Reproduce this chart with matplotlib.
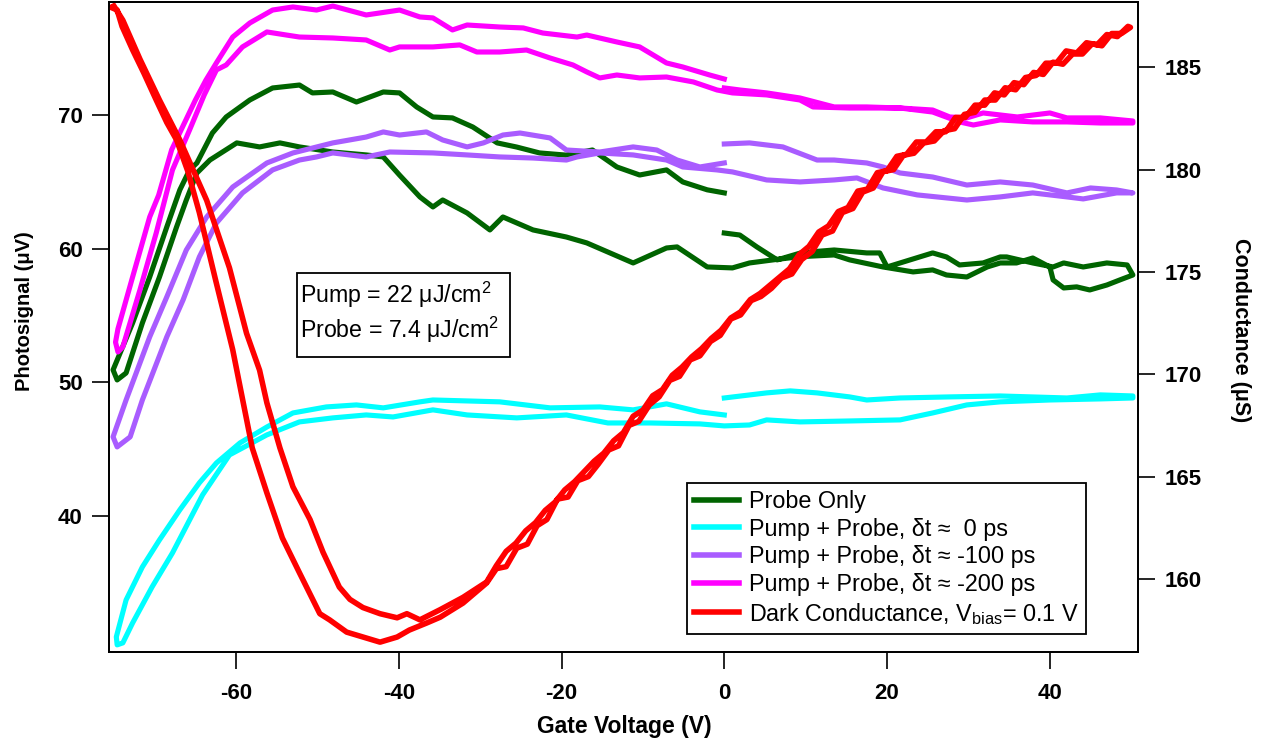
import matplotlib
matplotlib.use("Agg")
import matplotlib.pyplot as plt
import matplotlib.patches as patches
from matplotlib.lines import Line2D

plt.rcParams['font.family'] = ['Liberation Sans', 'DejaVu Sans']
plt.rcParams['mathtext.fontset'] = 'custom'
plt.rcParams['mathtext.rm'] = 'Liberation Sans'
plt.rcParams['mathtext.it'] = 'Liberation Sans:italic'
plt.rcParams['mathtext.bf'] = 'Liberation Sans:bold'
plt.rcParams['axes.unicode_minus'] = False

# Probe only: sweep 0 -> -75 -> +50 -> 0 (photosignal, uV)
probe_gate = [0.0, -2.1, -5.1, -7.1, -10.4, -13.2, -16.2, -19.5, -22.7, -25.5, -27.9, -30.9,
              -33.4, -35.8, -37.8, -39.9, -41.9, -45.2, -48.1, -50.6, -52.2, -55.5, -58.3,
              -61.2, -62.9, -64.8, -65.7, -66.9, -68.5, -70.6, -72.7, -75.1, -74.6,
              -73.5, -71.5, -69.4, -67.3, -66.1, -64.8, -63.2, -59.9, -57.1, -54.6, -52.2,
              -48.1, -44.0, -41.9, -39.9, -37.4, -35.8, -34.6, -31.6, -28.8, -27.2, -23.5,
              -19.4, -16.9, -11.2, -7.1, -5.8, -2.1, 1.0, 3.1, 6.5, 9.3, 13.5, 15.4, 19.5,
              23.2, 25.6, 27.3, 29.8, 32.3, 33.9, 35.9, 37.9, 40.0, 40.4, 41.7, 43.3, 44.9,
              47.0, 48.6, 50.2, 49.5, 47.0, 44.1, 41.7, 40.4, 37.9, 34.7, 33.9, 31.8, 28.9,
              27.3, 25.6, 21.6, 20.0, 19.1, 17.5, 13.5, 9.5, 6.5, 4.0, 1.9, 0.0]
probe_sig = [64.17, 64.40, 64.99, 65.89, 65.51, 66.11, 67.38, 67.00, 67.16, 67.60, 67.91, 69.10,
             69.78, 69.85, 70.60, 71.65, 71.72, 70.97, 71.72, 71.65, 72.24, 72.02, 71.12,
             69.85, 68.65, 66.41, 65.89, 64.39, 61.62, 57.88, 54.44, 50.93, 50.18,
             50.70, 54.44, 57.88, 61.62, 63.64, 65.66, 66.63, 67.91, 67.61, 67.91, 67.61,
             67.23, 67.01, 66.86, 65.50, 63.87, 63.12, 63.64, 62.67, 61.40, 62.37, 61.40,
             60.87, 60.43, 58.93, 60.05, 60.13, 58.63, 58.56, 58.93, 59.20, 59.40, 59.53,
             59.16, 58.63, 58.26, 58.41, 58.03, 57.88, 58.63, 58.93, 58.93, 59.30, 58.63,
             57.66, 57.06, 57.14, 56.91, 57.28, 57.66, 58.03, 58.78, 58.93, 58.63, 58.93,
             58.63, 58.93, 59.38, 59.38, 58.93, 58.78, 59.38, 59.68, 58.93, 58.63, 59.68,
             59.68, 59.90, 59.70, 59.16, 60.13, 61.02, 61.17]

# Pump + probe, delay ~ 0 ps
zero_gate = [0.0, -3.0, -7.1, -11.2, -15.3, -21.4, -27.6, -35.8, -37.4, -41.9, -45.2, -48.9,
             -53.0, -56.2, -59.5, -62.4, -64.5, -66.9, -69.4, -71.5, -73.5, -74.7, -74.6,
             -73.9, -72.7, -70.3, -67.8, -64.1, -60.8, -56.2, -52.2, -48.1, -44.0, -40.7,
             -35.8, -31.6, -25.5, -19.4, -14.3, -9.1, -3.0, 0.0, 3.1, 5.2, 9.3, 15.4, 21.6,
             25.6, 29.8, 33.9, 40.0, 46.2, 50.2, 50.2, 46.2, 42.1, 33.9, 27.7, 21.6, 17.5,
             15.4, 11.4, 8.1, 5.2, 0.0]
zero_sig = [47.56, 47.79, 48.39, 47.94, 48.16, 48.09, 48.54, 48.68, 48.54, 48.09, 48.31, 48.16,
            47.71, 46.66, 45.47, 43.97, 42.48, 40.46, 38.21, 36.19, 33.72, 30.96, 30.36,
            30.51, 32.00, 34.70, 37.24, 41.58, 44.57, 46.07, 47.04, 47.34, 47.56, 47.41,
            47.94, 47.56, 47.34, 47.56, 46.96, 46.96, 46.89, 46.74, 46.81, 47.19, 47.04,
            47.11, 47.19, 47.71, 48.31, 48.54, 48.68, 48.76, 48.83, 48.98, 49.06, 48.83,
            48.98, 48.91, 48.83, 48.68, 48.91, 49.21, 49.36, 49.21, 48.83]

# Pump + probe, delay ~ -100 ps
m100_gate = [0.0, -3.0, -5.8, -8.3, -11.2, -15.3, -19.4, -21.4, -25.1, -27.2, -29.6, -31.6,
             -34.6, -36.6, -39.9, -41.9, -44.0, -48.1, -53.0, -56.2, -60.4, -63.6, -66.1,
             -68.5, -70.6, -73.5, -75.1, -74.6, -73.0, -71.5, -68.5, -66.5, -64.5, -62.4,
             -59.2, -55.5, -52.2, -50.1, -48.1, -44.0, -41.1, -35.8, -31.6, -27.6, -23.5,
             -19.4, -18.1, -15.3, -11.2, -7.1, -5.1, -0.9, 1.0, 5.2, 9.3, 13.5, 16.3, 19.5,
             23.7, 29.8, 33.9, 37.9, 42.1, 44.1, 48.2, 50.2, 48.2, 45.0, 42.1, 37.9, 33.9,
             29.8, 25.6, 21.6, 19.5, 17.5, 13.5, 11.4, 7.2, 3.1, 0.0]
m100_sig = [66.41, 66.11, 66.63, 67.38, 67.61, 67.23, 67.38, 68.28, 68.65, 68.50, 67.91, 67.61,
            68.13, 68.73, 68.50, 68.73, 68.35, 67.91, 67.16, 66.41, 64.61, 62.37, 59.90,
            56.39, 53.40, 48.68, 45.92, 45.17, 45.92, 48.68, 53.40, 56.16, 59.38, 61.92,
            64.17, 65.89, 66.63, 66.86, 67.16, 66.86, 67.23, 67.16, 67.01, 66.86, 66.78,
            66.63, 66.86, 67.16, 67.01, 66.63, 66.11, 65.89, 65.74, 65.14, 64.99, 65.14,
            65.29, 64.54, 64.02, 63.64, 63.87, 64.17, 63.87, 63.72, 64.17, 64.17, 64.39,
            64.54, 64.17, 64.76, 64.99, 64.76, 65.36, 65.66, 66.11, 66.41, 66.63, 66.63,
            67.61, 67.91, 67.83]

# Pump + probe, delay ~ -200 ps
m200_gate = [0.0, -1.8, -5.1, -7.1, -10.4, -13.2, -16.9, -18.1, -22.3, -24.7, -27.6, -31.6,
             -33.4, -35.8, -37.4, -39.9, -44.0, -48.1, -50.1, -53.0, -55.5, -58.3, -60.4,
             -62.4, -63.7, -65.0, -67.9, -69.5, -70.6, -72.7, -74.5, -74.8, -74.5, -73.9,
             -71.8, -69.8, -67.8, -65.7, -63.9, -62.4, -61.2, -59.2, -56.2, -53.8, -52.2,
             -48.1, -44.0, -41.1, -39.9, -35.8, -32.5, -30.4, -27.6, -24.3, -21.4, -18.6,
             -16.9, -15.3, -13.2, -10.4, -7.1, -3.8, -0.9, 1.0, 5.2, 9.3, 10.9, 15.4, 21.6,
             25.6, 28.9, 30.6, 33.9, 37.9, 42.1, 46.2, 50.2, 50.2, 46.2, 42.1, 40.0, 36.0,
             31.8, 29.8, 27.7, 25.6, 21.6, 17.5, 13.5, 9.3, 5.2, 1.9, 0.0]
m200_sig = [72.69, 72.99, 73.59, 73.89, 75.09, 75.46, 75.98, 75.83, 76.13, 76.51, 76.58, 76.73,
            76.36, 77.26, 77.33, 77.85, 77.48, 78.15, 77.85, 78.08, 77.85, 76.88, 75.83,
            73.90, 72.60, 71.10, 67.40, 64.00, 62.37, 57.88, 54.00, 53.00, 52.27, 52.65,
            56.91, 61.17, 65.89, 68.88, 71.50, 73.37, 73.74, 75.09, 76.21, 75.98, 75.83,
            75.76, 75.61, 74.86, 75.09, 75.09, 75.24, 74.71, 74.71, 74.86, 74.26, 73.74,
            73.22, 72.77, 72.99, 72.77, 72.84, 72.47, 71.87, 71.65, 71.50, 71.12, 70.60,
            70.52, 70.52, 70.22, 69.48, 69.25, 69.63, 69.48, 69.48, 69.40, 69.40, 69.55,
            69.78, 69.78, 70.15, 69.85, 70.15, 69.78, 69.85, 70.37, 70.52, 70.60, 70.60,
            71.27, 71.65, 71.87, 72.02]

# Dark conductance (uS), Vbias = 0.1 V: down one branch, up to +50, back, up the other
dark_gate = [-75.2, -74.6, -74.0, -72.7, -71.3, -69.8, -68.5, -67.3, -65.9, -64.5, -62.5, -60.4,
             -59.2, -58.0, -56.2, -54.3, -52.2, -49.7, -48.5, -46.4, -44.4, -42.3, -40.2,
             -38.7, -36.6, -34.9, -32.1, -29.2, -28.0, -26.8, -25.5, -24.2, -23.0, -21.8,
             -20.5, -19.2, -18.0, -16.7, -15.5, -14.2, -13.0, -11.7, -10.5, -9.2, -8.0, -6.7,
             -5.5, -4.2, -3.0, -1.7, -0.5, 0.8, 2.0, 3.3, 4.5, 5.8, 7.0, 8.3, 9.5, 10.8,
             12.0, 13.3, 14.5, 15.8, 17.0, 18.3, 19.5, 20.8, 22.0, 23.3, 24.5, 25.8, 27.0,
             28.3, 29.5, 30.8, 32.0, 33.3, 34.5, 35.8, 37.0, 38.3, 39.5, 40.8, 42.0, 43.3,
             44.5, 45.8, 47.0, 48.3, 49.6,
             49.9, 48.8, 47.6, 46.4, 45.2, 44.0, 42.8, 41.6, 40.4, 39.2, 38.0, 36.8, 35.6,
             34.4, 33.2, 32.0, 30.8, 29.6, 28.4, 27.2, 26.0, 24.8, 23.6, 22.4, 21.2, 20.0,
             18.8, 17.6, 16.4, 15.2, 14.0, 12.8, 11.6, 10.4, 9.2, 8.0, 6.8, 5.6, 4.4, 3.2,
             2.0, 0.8, -0.4, -1.6, -2.8, -4.0, -5.2, -6.4, -7.6, -8.8, -10.0, -11.2, -12.4,
             -13.6, -14.8, -16.0, -17.2, -18.4, -19.6, -20.8, -22.0, -23.2, -24.4, -25.6,
             -26.8, -28.0, -29.2, -32.1, -34.9, -37.4, -39.0, -40.2, -42.3, -44.4, -46.0,
             -47.3, -49.3, -50.9, -53.0, -54.6, -56.2, -57.1, -58.7, -60.8, -63.6, -66.9,
             -69.4, -71.8, -73.9, -75.0]
dark_cond = [187.9, 187.8, 187.0, 185.85, 184.7, 183.4, 182.3, 181.45, 179.9, 177.9, 174.6, 171.2,
             168.8, 166.4, 164.2, 162.0, 160.3, 158.3, 158.0, 157.4, 157.16, 156.91, 157.16,
             157.5, 157.84, 158.13, 158.82, 159.8, 160.5, 160.6, 161.5, 161.7, 162.6, 162.9,
             163.9, 164.0, 164.8, 165.0, 165.6, 166.3, 166.5, 167.5, 167.7, 168.5, 168.9,
             169.7, 169.9, 170.7, 170.9, 171.6, 171.9, 172.7, 172.9, 173.6, 173.8, 174.2,
             174.7, 174.9, 175.6, 176.0, 176.8, 177.0, 177.9, 178.1, 178.9, 179.1, 179.9,
             180.0, 180.7, 180.8, 181.3, 181.4, 181.9, 182.0, 182.7, 182.8, 183.4, 183.4,
             184.0, 183.9, 184.5, 184.6, 185.2, 185.2, 185.8, 185.7, 186.2, 186.1, 186.6,
             186.5, 187.0,
             186.95, 186.65, 186.65, 186.05, 186.15, 185.65, 185.65, 185.15, 185.25, 184.65,
             184.75, 184.15, 184.25, 183.65, 183.75, 183.15, 183.15, 182.55, 182.55, 181.85,
             181.85, 181.35, 181.35, 180.75, 180.65, 179.95, 179.85, 179.05, 178.95, 178.15,
             177.95, 177.25, 176.95, 176.25, 175.85, 175.15, 174.75, 174.35, 173.95, 173.65,
             173.05, 172.75, 172.15, 171.75, 171.25, 170.85, 170.35, 169.95, 169.25, 168.95,
             168.25, 167.95, 167.15, 166.75, 166.15, 165.75, 165.25, 164.75, 164.35, 163.75,
             163.35, 162.75, 162.35, 161.75, 161.35, 160.65, 159.85,
             159.1, 158.5, 158.0, 158.3, 158.1, 158.3, 158.6, 159.0, 159.6, 161.3,
             162.9, 164.5, 166.4, 168.6, 170.2, 172.0, 175.2, 178.5, 181.45, 183.4, 185.4,
             187.3, 188.0]

series_labels = ['Probe Only',
                 'Pump + Probe, δt ≈  0 ps',
                 'Pump + Probe, δt ≈ -100 ps',
                 'Pump + Probe, δt ≈ -200 ps',
                 r'Dark Conductance, V$_{\mathrm{bias}}$= 0.1 V']
colors = ['#006400', '#00FFFF', '#A95CFF', '#FF00FF', '#FF0000']

lw = 3.7
fig = plt.figure(figsize=(12.66, 7.44), dpi=100)
ax = fig.add_axes([0.0861, 0.1237, 0.8126, 0.8736])
ax2 = ax.twinx()

ax.plot(probe_gate, probe_sig, color=colors[0], lw=lw)
ax.plot(zero_gate, zero_sig, color=colors[1], lw=lw)
ax.plot(m100_gate, m100_sig, color=colors[2], lw=lw)
ax.plot(m200_gate, m200_sig, color=colors[3], lw=lw)
ax2.plot(dark_gate, dark_cond, color=colors[4], lw=lw + 0.3)

ax.set_xlim(-75.6, 50.8)
ax.set_ylim(29.83, 78.45)
ax2.set_ylim(156.43, 188.19)

ax.set_xticks([-60, -40, -20, 0, 20, 40])
ax.set_yticks([40, 50, 60, 70])
ax2.set_yticks([160, 165, 170, 175, 180, 185])

for a in (ax, ax2):
    for s in a.spines.values():
        s.set_linewidth(1.3)
    a.tick_params(length=12, width=1.2, labelsize=16, pad=7)
    for t in a.get_xticklabels() + a.get_yticklabels():
        t.set_fontweight('bold')
ax.tick_params(axis='x', pad=10)

ax.set_xlabel('Gate Voltage (V)', fontsize=16.5, fontweight='bold', va='center')
ax.xaxis.set_label_coords(0.5006, -0.115)
ax.set_ylabel('Photosignal (μV)', fontsize=14.5, fontweight='bold', va='center')
ax.yaxis.set_label_coords(-0.0826, 0.525)
ax2.set_ylabel('Conductance (μS)', fontsize=15.5, fontweight='bold', rotation=270, va='center')
ax2.yaxis.set_label_coords(1.0995, 0.495)

# fluence annotation box
ax.add_patch(patches.Rectangle((0.1828, 0.4538), 0.207, 0.1292, transform=ax.transAxes,
                               facecolor='white', edgecolor='black', lw=1.3, zorder=5))
ax.text(0.1857, 0.537, 'Pump = 22 μJ/cm$^{2}$', transform=ax.transAxes, fontsize=16.7,
        va='baseline', ha='left', zorder=6)
ax.text(0.1857, 0.483, 'Probe = 7.4 μJ/cm$^{2}$', transform=ax.transAxes, fontsize=16.7,
        va='baseline', ha='left', zorder=6)

handles = [Line2D([], [], color=c, lw=4) for c in colors]
leg = ax2.legend(handles, series_labels, loc='upper left', bbox_to_anchor=(0.562, 0.26),
                 fontsize=16.8, frameon=True, fancybox=False, framealpha=1, edgecolor='black',
                 handlelength=1.93, handletextpad=0.43, labelspacing=0.2, borderpad=0.3,
                 borderaxespad=0)
leg.get_frame().set_linewidth(1.3)

fig.savefig('out.png', dpi=100)
